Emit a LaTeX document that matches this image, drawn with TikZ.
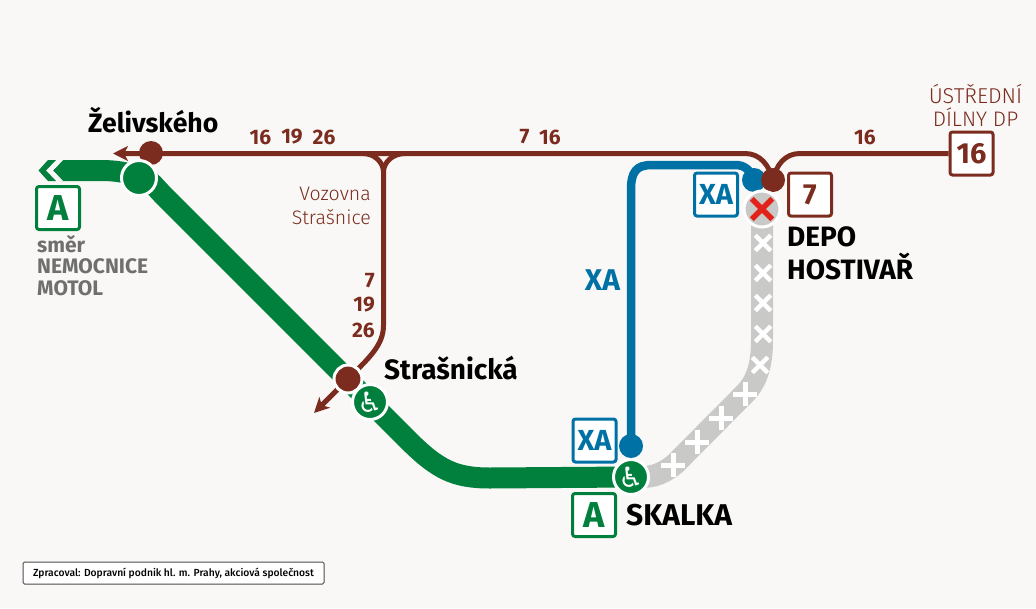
\documentclass[tikz,border=0pt]{standalone}
\usepackage{fontspec}
\setmainfont{Fira Sans}
\newfontfamily\symfont{DejaVu Sans}
\newfontfamily\thinfont{Fira Sans Light}
\newfontfamily\medfont{Fira Sans Medium}
\usepackage{tikz}
\usetikzlibrary{arrows.meta,shapes.misc}
\pgfdeclarelayer{background layer}
\pgfsetlayers{background layer,main}
\definecolor{paper}{HTML}{FAF8F6}
\definecolor{metro}{HTML}{00803C}
\definecolor{tram}{HTML}{7B2C1F}
\definecolor{bus}{HTML}{0071A5}
\definecolor{closed}{HTML}{C9C9C8}
\definecolor{stop}{HTML}{E2231A}
\definecolor{note}{HTML}{6F6F6E}
\tikzset{
  stat/.style={circle,inner sep=0pt,minimum size=#1},
  ring/.style={stat=#1,draw=white,line width=3pt},
  access/.style={ring=35pt,fill=metro,text=white,font=\fontsize{28}{28}\selectfont\symfont},
  sign/.style={draw=#1,text=#1,fill=white,line width=3pt,rounded corners=2.5pt,minimum size=43pt,inner sep=0pt,font=\fontsize{29}{29}\selectfont\bfseries},
  bigsign/.style={sign=metro,font=\fontsize{36}{36}\selectfont\bfseries},
  statname/.style={anchor=base west,inner sep=0pt,font=\fontsize{28}{28}\selectfont\bfseries},
  grey/.style={anchor=base west,inner sep=0pt,text=note,font=\fontsize{21}{21}\selectfont\bfseries},
  num/.style={text=tram,inner sep=0pt,font=\fontsize{21}{21}\selectfont\bfseries},
  thinlabel/.style={text=tram,inner sep=0pt,font=\fontsize{#1}{#1}\selectfont\thinfont},
  gone/.style={cross out,draw=white,inner sep=0pt,minimum size=#1},
  tramline/.style={draw=tram,line width=5pt},
  endtip/.style={-{Stealth[length=15pt,width=15pt,inset=4pt]}}
}
\begin{document}
\begin{tikzpicture}[x=1pt,y=-1pt]
\useasboundingbox (0,0) rectangle (1036,608);
\node (zelb) [stat=24pt,fill=tram] at (151,153) {};
\node (zelg) [ring=35pt,fill=metro] at (139,178) {};
\node (strb) [ring=28pt,fill=tram] at (348,379) {};
\node (strg) [access] at (370,402) {♿};
\node (skag) [access] at (631,477) {♿};
\node (skab) [stat=24pt,fill=bus] at (631,446) {};
\node (depb) [stat=24pt,fill=bus] at (754,180) {};
\node (dept) [stat=24pt,fill=tram] at (773,180) {};
\node (depx) [ring=36pt,fill=closed] at (762,209) {};
\node (depr) [cross out,draw=stop,line width=5.5pt,inner sep=0pt,minimum size=15pt] at (depx) {};

\coordinate (zelw) at (113,153.5);
\coordinate (strw) at (314,413);
\coordinate (fork) at (383.5,172);

\node (boxa) [bigsign] at (58,208) {A};
\node (boxb) [bigsign] at (594,515) {A};
\node (boxc) [sign=bus] at (716,194.5) {XA};
\node (boxd) [sign=bus] at (594.5,440.5) {XA};
\node (boxe) [sign=tram] at (810,194.5) {7};
\node (boxf) [sign=tram] at (971.5,153.5) {16};

\node (nzel) [statname,font=\fontsize{26.6}{26.6}\selectfont\bfseries] at (88,132.5) {Želivského};
\node (nstr) [statname] at (384,379) {Strašnická};
\node (nska) [statname,font=\fontsize{30}{30}\selectfont\bfseries] at (626,525) {SKALKA};
\node (ndep) [statname] at (787,246.5) {DEPO};
\node (nhos) [statname] at (787,279) {HOSTIVAŘ};

\node (smer) [grey] at (37,252) {směr};
\node (nem) [grey] at (37,273) {NEMOCNICE};
\node (mot) [grey] at (37,295) {MOTOL};

\node (n1) [num] at (260.5,137) {16};
\node (n2) [num] at (292,137) {19};
\node (n3) [num] at (324,137) {26};
\node (n4) [num] at (524.5,137) {7};
\node (n5) [num] at (550,137) {16};
\node (n6) [num] at (865,137) {16};
\node (n7) [num,anchor=east] at (375,281) {7};
\node (n8) [num,anchor=east] at (375,305) {19};
\node (n9) [num,anchor=east] at (375,330) {26};

\node (voz) [thinlabel=19.5,anchor=east] at (371,194) {Vozovna};
\node (stra) [thinlabel=19.5,anchor=east] at (371,217) {Strašnice};
\node (ust) [thinlabel=21.5] at (975.5,94) {ÚSTŘEDNÍ};
\node (dil) [thinlabel=21] at (975.5,117) {DÍLNY DP};
\node (xa) [text=bus,font=\fontsize{30}{30}\selectfont\bfseries] at (602.5,280) {XA};

\node (pozn) [draw=black!70,fill=white,line width=1pt,rounded corners=1.5pt,minimum width=301pt,minimum height=22pt,inner sep=0pt,font=\fontsize{10.3}{10.3}\selectfont\medfont] at (173.5,573) {Zpracoval: Dopravní podnik hl. m. Prahy, akciová společnost};

\foreach \x/\y in {763/243,763/273,763/303,763/334,760/365}
  \node (krz) [gone=11pt,line width=4.5pt] at (\x,\y) {};
\foreach \x/\y in {745/394,721/418,697/442,673/465}
  \node (plu) [gone=12pt,line width=5pt,rotate=45] at (\x,\y) {};

\begin{pgfonlayer}{background layer}
\fill [paper] (0,0) rectangle (1036,608);
\draw [closed,line width=22pt] (depx.center) -- (762,340) .. controls (762,365) and (757,381) .. (745,393.5) -- (675,464) .. controls (660,476) and (650,478) .. (skag.center);
\draw [metro,line width=21pt] (zelg.center) .. controls (128,172) and (115,170.5) .. (100,170.5) -- (60,170.5);
\fill [metro] (63,160) -- (53,170.5) -- (63,181) -- cycle;
\fill [paper] (53,160) -- (43,170.5) -- (53,181) -- (63,181) -- (53,170.5) -- (63,160) -- cycle;
\fill [metro] (48,160) -- (38.5,170.5) -- (48,181) -- (56,181) -- (46,170.5) -- (56,160) -- cycle;
\draw [metro,line width=21pt] (zelg.center) .. controls (148,176) and (153,185) .. (165,197) -- (408,440) .. controls (438,470) and (455,478) .. (490,478) -- (skag.center);
\draw [bus,line width=8.5pt] (skab.center) -- (631,190) .. controls (631,172) and (636,165) .. (652,165) -- (735,165) .. controls (745,165) and (750,170) .. (depb.center);
\draw [tramline,endtip] (dept.center) .. controls (769,165) and (760,153.5) .. (745,153.5) -- (zelw);
\draw [tramline] (boxf.west) -- (800,153.5) .. controls (785,153.5) and (776,165) .. (dept.center);
\draw [tramline] (363,153.5) .. controls (374,153.5) and (383.5,162) .. (fork);
\draw [tramline] (405,153.5) .. controls (393,153.5) and (383.5,162) .. (fork);
\draw [tramline] (fork) -- (383.5,325) .. controls (383.5,345) and (370,357) .. (strb.center);
\draw [tramline,endtip] (strb.center) -- (strw);
\end{pgfonlayer}
\end{tikzpicture}
\end{document}
